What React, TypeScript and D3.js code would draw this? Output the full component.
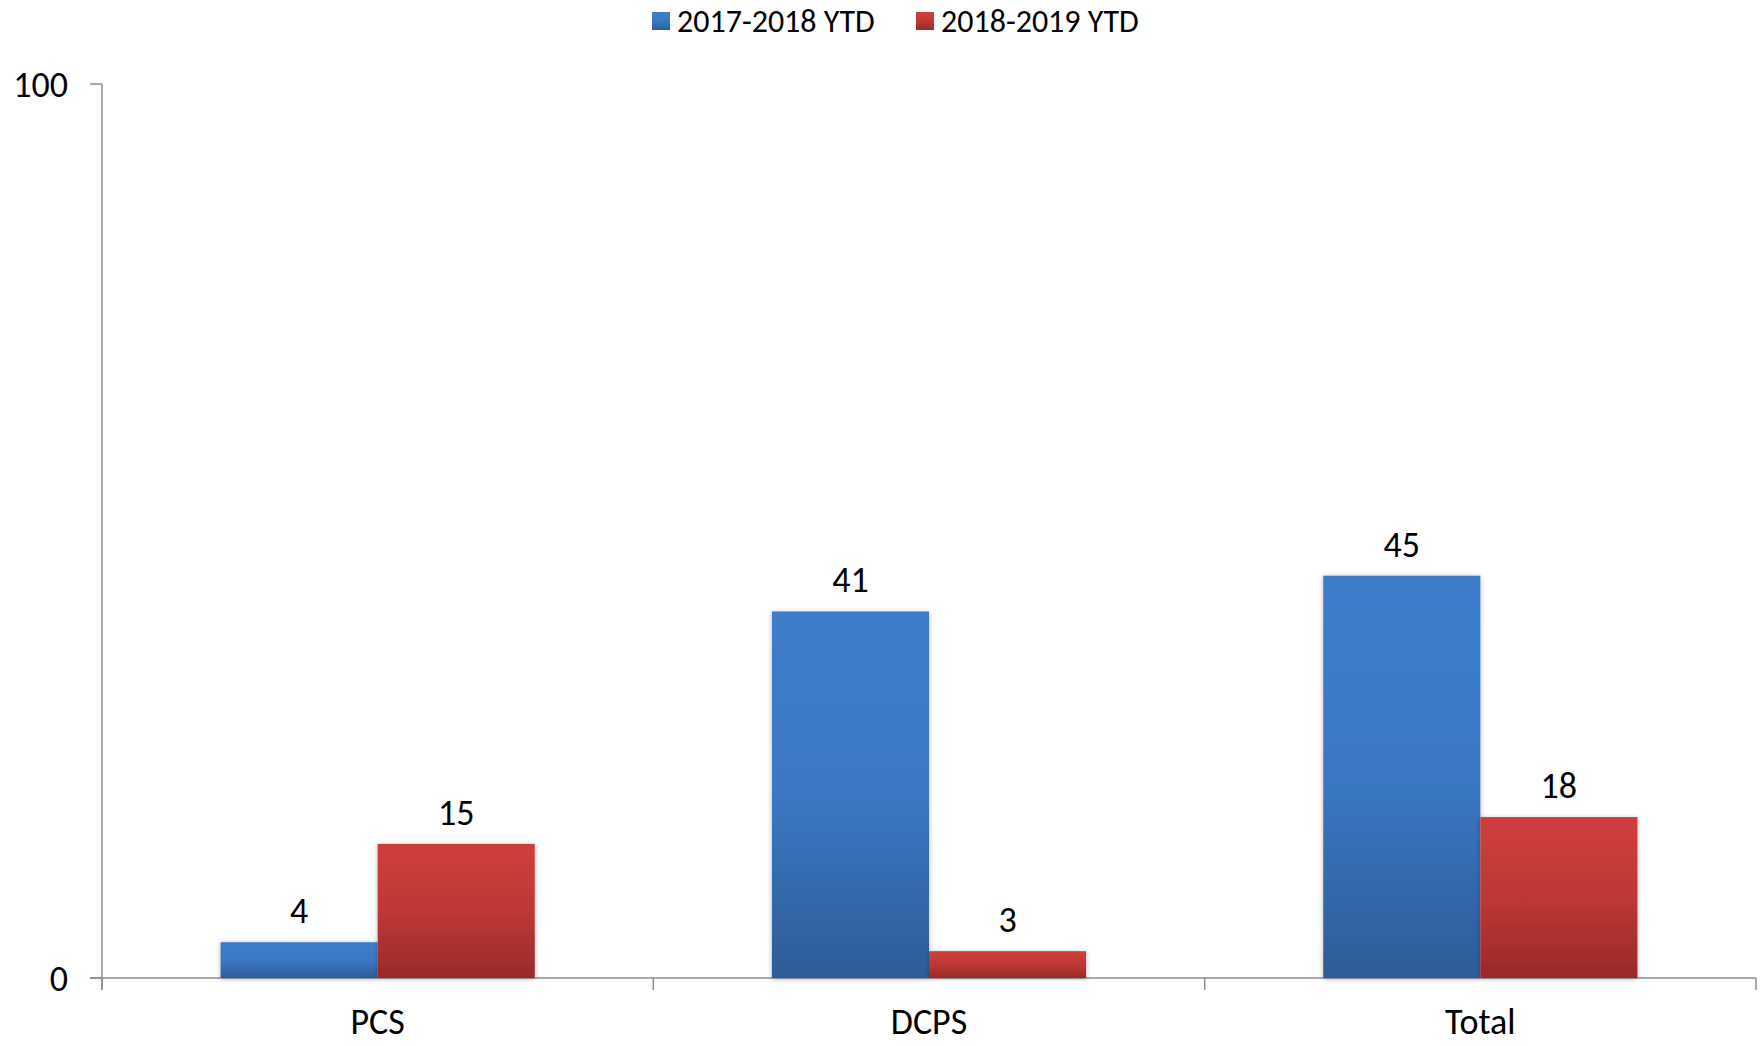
import * as React from 'react';
import * as d3 from 'd3';

const categories = ['PCS', 'DCPS', 'Total'];
const seriesNames = ['2017-2018 YTD', '2018-2019 YTD'];
const values2017 = [4, 41, 45];
const values2018 = [15, 3, 18];
const yTicks = [0, 100];

const W = 1763;
const H = 1046;
const FONT = "Carlito, 'Open Sans', 'Noto Sans', sans-serif";

const App = () => {
    const x0 = 102;
    const x1 = 1756;
    const yTop = 84;
    const yBase = 978;

    const x = d3.scaleBand<string>().domain(categories).range([x0, x1]).paddingInner(0).paddingOuter(0);
    const inner = d3.scaleBand<string>().domain(seriesNames).range([0, x.bandwidth()]).paddingOuter(0.755);
    const y = d3.scaleLinear().domain([0, 100]).range([yBase, yTop]);

    const series = [values2017, values2018];
    const grads = ['gBlue', 'gRed'];

    const boundaries = categories.map((c) => x(c) as number).concat([x1]);

    return (
        <div style={{ position: 'absolute', left: 0, top: 0 }}>
            <svg width={W} height={H} style={{ display: 'block', background: '#fff' }}>
                <defs>
                    <linearGradient id="gBlue" x1="0" y1="0" x2="0" y2="1">
                        <stop offset="0" stopColor="#3c7ecc" />
                        <stop offset="0.5" stopColor="#3a78c4" />
                        <stop offset="1" stopColor="#2d5c98" />
                    </linearGradient>
                    <linearGradient id="gRed" x1="0" y1="0" x2="0" y2="1">
                        <stop offset="0" stopColor="#d03e3b" />
                        <stop offset="0.5" stopColor="#bd3835" />
                        <stop offset="1" stopColor="#982a28" />
                    </linearGradient>
                    <filter id="shadow" x="-10%" y="-10%" width="120%" height="120%">
                        <feDropShadow dx="0" dy="1" stdDeviation="2.5" floodColor="#000" floodOpacity="0.3" />
                    </filter>
                </defs>

                {/* axes */}
                <line x1={x0} x2={x0} y1={yTop} y2={yBase + 12} stroke="#8c8c8c" strokeWidth={1.5} />
                <line x1={x0 - 12} x2={x1} y1={yBase} y2={yBase} stroke="#8c8c8c" strokeWidth={1.5} />
                {yTicks.map((t) => (
                    <g key={t}>
                        <line x1={x0 - 12} x2={x0} y1={y(t)} y2={y(t)} stroke="#8c8c8c" strokeWidth={1.5} />
                        <text x={x0 - 34} y={y(t)} dy="0.35em" textAnchor="end" fontFamily={FONT} fontSize={36} fill="#000">
                            {t}
                        </text>
                    </g>
                ))}
                {boundaries.map((b, i) => (
                    <line key={i} x1={b} x2={b} y1={yBase} y2={yBase + 12} stroke="#8c8c8c" strokeWidth={1.5} />
                ))}

                {/* bars */}
                {categories.map((c, ci) => (
                    <g key={c} transform={'translate(' + x(c) + ',0)'}>
                        {seriesNames.map((s, si) => {
                            const v = series[si][ci];
                            const bx = inner(s) as number;
                            return (
                                <g key={s}>
                                    <rect
                                        x={bx}
                                        y={y(v)}
                                        width={inner.bandwidth()}
                                        height={yBase - y(v)}
                                        fill={'url(#' + grads[si] + ')'}
                                        filter="url(#shadow)"
                                    />
                                    <text
                                        x={bx + inner.bandwidth() / 2}
                                        y={y(v) - 19}
                                        textAnchor="middle"
                                        fontFamily={FONT}
                                        fontSize={36}
                                        fill="#000"
                                    >
                                        {v}
                                    </text>
                                </g>
                            );
                        })}
                        <text
                            x={x.bandwidth() / 2}
                            y={yBase + 56}
                            textAnchor="middle"
                            fontFamily={FONT}
                            fontSize={36}
                            fill="#000"
                        >
                            {c}
                        </text>
                    </g>
                ))}

                {/* legend */}
                {seriesNames.map((s, i) => {
                    const lx = i === 0 ? 652 : 916;
                    return (
                        <g key={s}>
                            <rect x={lx} y={12} width={18} height={18} fill={'url(#' + grads[i] + ')'} />
                            <text x={lx + 25} y={21} dy="0.35em" fontFamily={FONT} fontSize={32} fill="#000">
                                {s}
                            </text>
                        </g>
                    );
                })}
            </svg>
        </div>
    );
};

export default App;
